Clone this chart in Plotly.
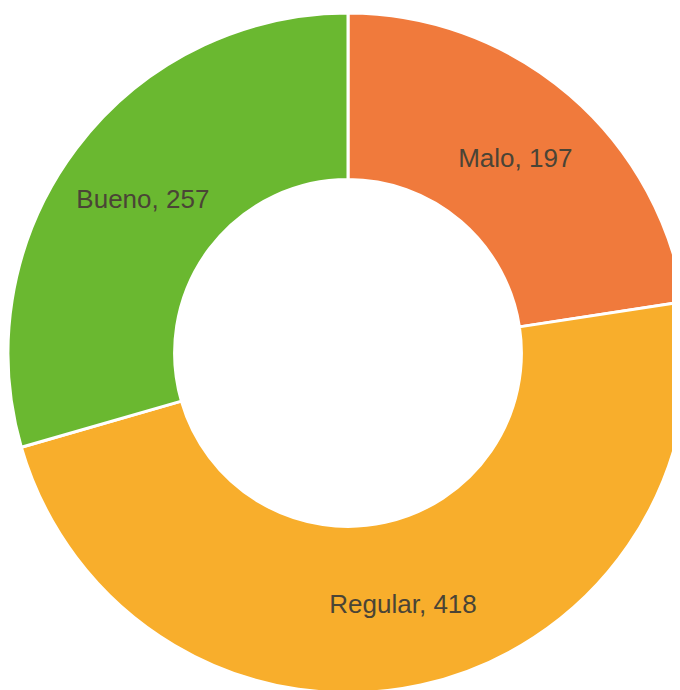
import plotly.graph_objects as go

labels = ['Malo', 'Regular', 'Bueno']
values = [197, 418, 257]
colors = ['#F07A3C', '#F8AE2C', '#6AB830']

fig = go.Figure()
fig.add_trace(go.Pie(
    labels=labels,
    values=values,
    hole=0.51,
    sort=False,
    direction='clockwise',
    rotation=0,
    marker=dict(colors=colors, line=dict(color='white', width=3)),
    texttemplate='%{label}, %{value}',
    textposition='inside',
    insidetextorientation='horizontal',
    textfont=dict(family='Liberation Sans, Arial', size=26, color='#4a4436'),
    hoverinfo='label+value',
    showlegend=False,
))

fig.update_layout(
    width=680,
    height=690,
    margin=dict(l=0, r=0, t=0, b=0),
    paper_bgcolor='white',
)
fig.write_html("out.html")
